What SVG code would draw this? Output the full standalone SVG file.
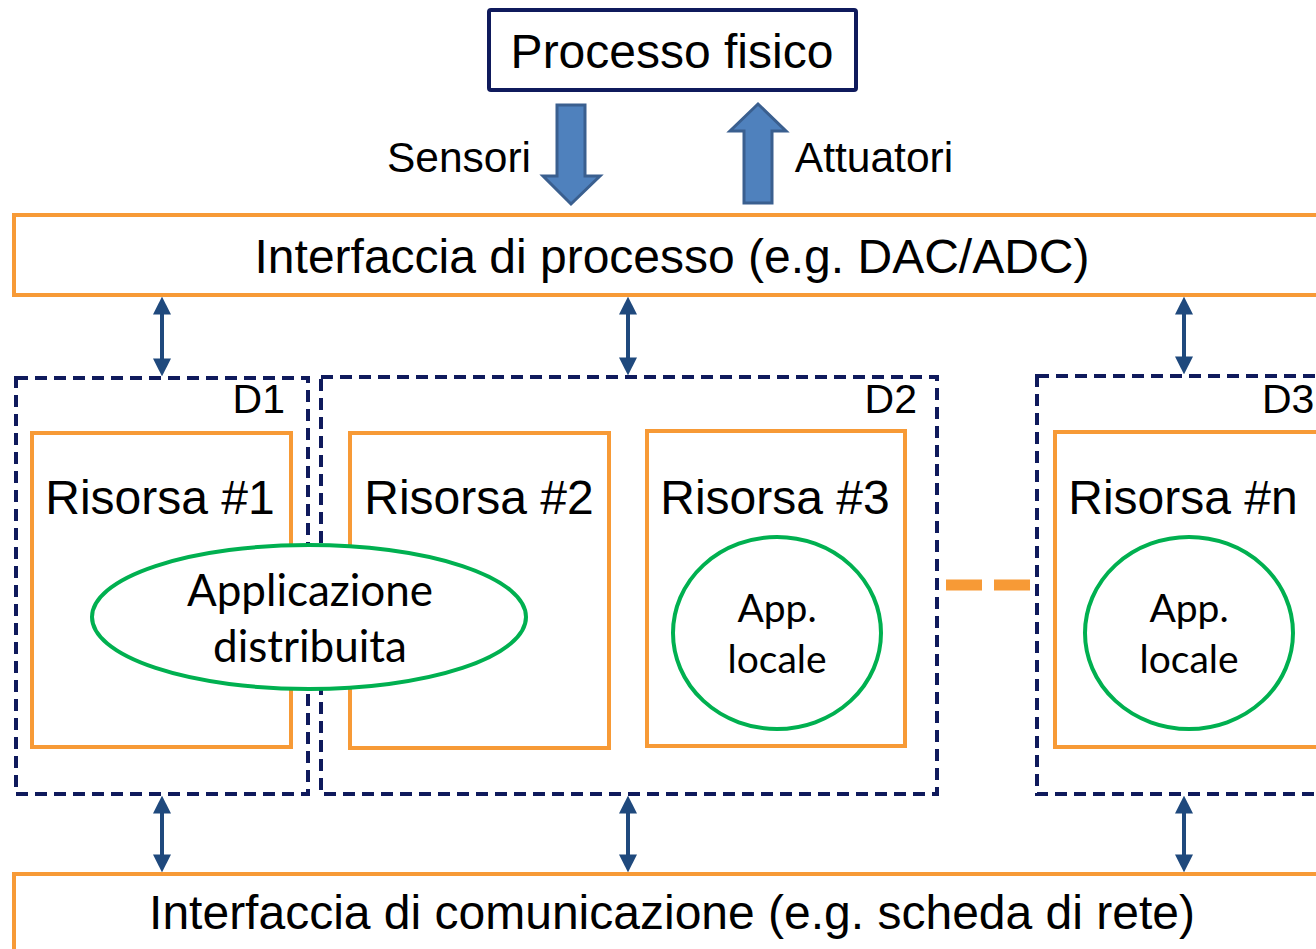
<svg xmlns="http://www.w3.org/2000/svg" width="1316" height="949" viewBox="0 0 1316 949">
<style>
.t{font-family:"Liberation Sans",Arial,sans-serif;fill:#000;text-anchor:middle}
.c{font-family:Lato,"Noto Sans",sans-serif;fill:#000;text-anchor:middle}
.or{fill:#fff;stroke:#F79A36;stroke-width:4}
.dom{fill:none;stroke:#0F1A5C;stroke-width:4;stroke-dasharray:12 7}
.app{fill:#fff;stroke:#00B050;stroke-width:4}
.big{fill:#4F81BD;stroke:#3A5F8F;stroke-width:3}
.dbl{stroke:#1F497D;stroke-width:4;fill:none;marker-start:url(#ah);marker-end:url(#ah)}
</style>
<defs>
<marker id="ah" viewBox="0 0 10 10" refX="7" refY="5" markerWidth="4.5" markerHeight="4.5" orient="auto-start-reverse" markerUnits="strokeWidth">
<path d="M0,0 L10,5 L0,10 z" fill="#1F497D"/>
</marker>
</defs>
<rect width="1316" height="949" fill="#fff"/>
<g id="processo-fisico">
<rect x="489" y="10" width="367" height="80" fill="#fff" stroke="#0F1A5C" stroke-width="4" rx="2"/>
<text class="t" x="672" y="68" font-size="48">Processo fisico</text>
</g>
<g id="sensori">
<path class="big" d="M557,105 H585 V176 H600 L571,204 L543,176 H557 Z"/>
<text class="t" x="459" y="172" font-size="42.5">Sensori</text>
</g>
<g id="attuatori">
<path class="big" d="M744,203 H772 V131 H786 L758,104 L730,131 H744 Z"/>
<text class="t" x="874" y="172" font-size="42.5">Attuatori</text>
</g>
<g id="interfaccia-processo">
<rect class="or" x="14" y="215" width="1320" height="80"/>
<text class="t" x="672" y="273" font-size="48">Interfaccia di processo (e.g. DAC/ADC)</text>
</g>
<g id="D1">
<rect class="dom" x="16" y="378" width="292" height="416"/>
<text class="t" x="285" y="413" font-size="41" style="text-anchor:end">D1</text>
</g>
<g id="D2">
<rect class="dom" x="321" y="377" width="616" height="417"/>
<text class="t" x="917" y="413" font-size="41" style="text-anchor:end">D2</text>
</g>
<g id="D3">
<rect class="dom" x="1037" y="376" width="300" height="418"/>
<text class="t" x="1262" y="413" font-size="41" style="text-anchor:start">D3</text>
</g>
<g id="risorsa1">
<rect class="or" x="32" y="433" width="259" height="314"/>
<text class="t" x="160" y="514" font-size="48">Risorsa #1</text>
</g>
<g id="risorsa2">
<rect class="or" x="350" y="433" width="259" height="315"/>
<text class="t" x="479" y="514" font-size="48">Risorsa #2</text>
</g>
<g id="risorsa3">
<rect class="or" x="647" y="431" width="258" height="315"/>
<text class="t" x="775" y="514" font-size="48">Risorsa #3</text>
</g>
<g id="risorsan">
<rect class="or" x="1055" y="432" width="280" height="315"/>
<text class="t" x="1183" y="514" font-size="48">Risorsa #n</text>
</g>
<g id="app-distribuita">
<ellipse class="app" cx="309" cy="617" rx="217" ry="72"/>
<text class="c" x="310" y="606" font-size="44">Applicazione</text>
<text class="c" x="310" y="662" font-size="44">distribuita</text>
</g>
<g id="app-locale-3">
<ellipse class="app" cx="777" cy="633" rx="104" ry="96"/>
<text class="c" x="777" y="622" font-size="39">App.</text>
<text class="c" x="777" y="673" font-size="39">locale</text>
</g>
<g id="app-locale-n">
<ellipse class="app" cx="1189" cy="633" rx="104" ry="96"/>
<text class="c" x="1189" y="622" font-size="39">App.</text>
<text class="c" x="1189" y="673" font-size="39">locale</text>
</g>
<g id="ellipsis">
<line x1="946" y1="585" x2="1030" y2="585" stroke="#F79A36" stroke-width="11" stroke-dasharray="36 12"/>
</g>
<g id="interfaccia-comunicazione">
<rect class="or" x="14" y="874" width="1320" height="100"/>
<text class="t" x="672" y="929" font-size="48">Interfaccia di comunicazione (e.g. scheda di rete)</text>
</g>
<g id="connectors">
<line class="dbl" x1="162" y1="302" x2="162" y2="371"/>
<line class="dbl" x1="628" y1="302" x2="628" y2="370"/>
<line class="dbl" x1="1184" y1="302" x2="1184" y2="369"/>
<line class="dbl" x1="162" y1="801" x2="162" y2="867"/>
<line class="dbl" x1="628" y1="801" x2="628" y2="867"/>
<line class="dbl" x1="1184" y1="801" x2="1184" y2="867"/>
</g>
</svg>
